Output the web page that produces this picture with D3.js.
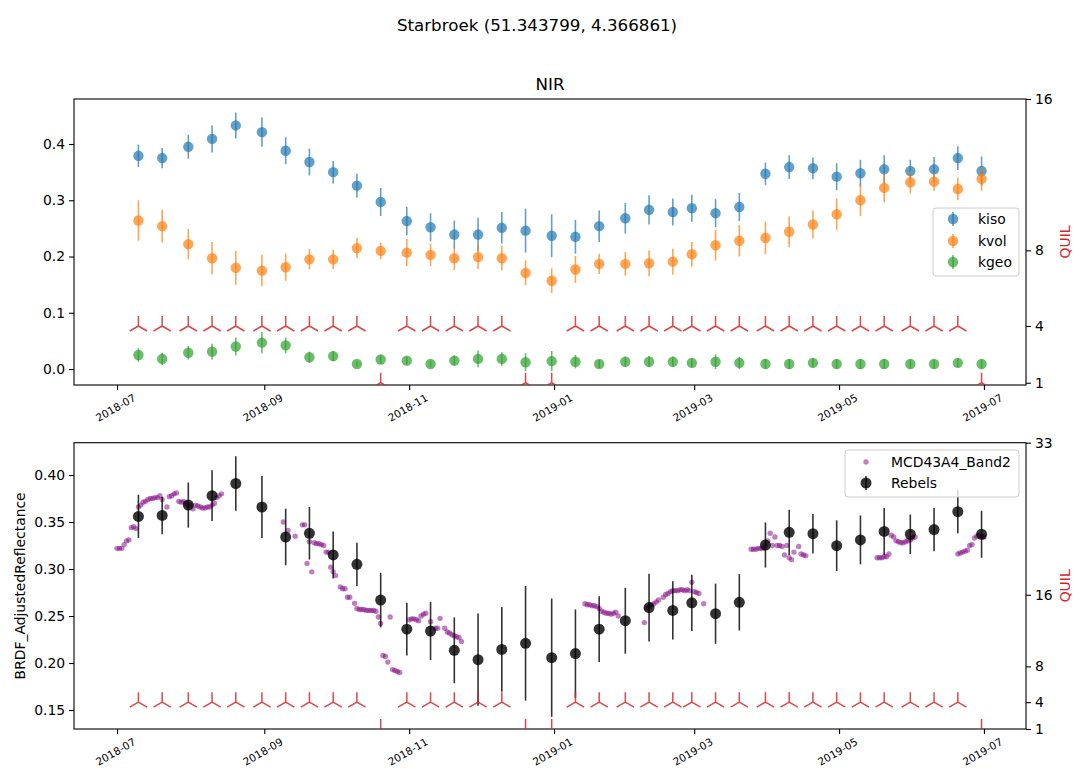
<!DOCTYPE html>
<html>
<head>
<meta charset="utf-8">
<script src="https://cdn.jsdelivr.net/npm/d3@7"></script>
<style>
  body { margin: 0; background: #fff; }
  text { font-family: "DejaVu Sans", sans-serif; fill: #000; }
</style>
</head>
<body>
<script>
// dekadal dates used by the kernel retrievals and Rebels
var dekadDates = ["2018-07-10","2018-07-20","2018-07-31","2018-08-10","2018-08-20","2018-08-31",
  "2018-09-10","2018-09-20","2018-09-30","2018-10-10","2018-10-20","2018-10-31",
  "2018-11-10","2018-11-20","2018-11-30","2018-12-10","2018-12-20","2018-12-31",
  "2019-01-10","2019-01-20","2019-01-31","2019-02-10","2019-02-20","2019-02-28",
  "2019-03-10","2019-03-20","2019-03-31","2019-04-10","2019-04-20","2019-04-30",
  "2019-05-10","2019-05-20","2019-05-31","2019-06-10","2019-06-20","2019-06-30"];

var kiso = [0.379,0.375,0.395,0.409,0.433,0.421,0.388,0.368,0.350,0.326,0.297,0.263,
  0.252,0.239,0.239,0.251,0.246,0.237,0.235,0.254,0.268,0.283,0.279,0.286,
  0.277,0.288,0.347,0.359,0.357,0.342,0.348,0.355,0.352,0.355,0.375,0.352];
var kisoErr = [0.020,0.018,0.021,0.024,0.023,0.026,0.024,0.024,0.020,0.021,0.025,0.025,
  0.025,0.025,0.030,0.028,0.039,0.038,0.030,0.028,0.027,0.026,0.024,0.024,
  0.025,0.025,0.020,0.021,0.019,0.024,0.024,0.025,0.020,0.022,0.021,0.026];
var kvol = [0.264,0.254,0.222,0.197,0.180,0.175,0.181,0.195,0.195,0.215,0.210,0.207,
  0.203,0.197,0.199,0.197,0.171,0.157,0.177,0.187,0.187,0.188,0.191,0.204,
  0.220,0.228,0.233,0.244,0.257,0.275,0.300,0.322,0.332,0.333,0.320,0.338];
var kvolErr = [0.036,0.029,0.027,0.029,0.030,0.028,0.024,0.018,0.017,0.018,0.015,0.024,
  0.020,0.021,0.021,0.022,0.022,0.022,0.024,0.018,0.021,0.023,0.023,0.022,
  0.027,0.028,0.029,0.027,0.025,0.028,0.028,0.026,0.020,0.016,0.020,0.021];
var kgeo = [0.025,0.018,0.029,0.031,0.040,0.047,0.042,0.021,0.023,0.009,0.017,0.015,
  0.009,0.015,0.018,0.018,0.012,0.014,0.013,0.009,0.013,0.013,0.013,0.011,
  0.013,0.011,0.009,0.009,0.011,0.009,0.009,0.009,0.009,0.009,0.011,0.009];
var kgeoErr = [0.012,0.011,0.012,0.014,0.016,0.019,0.014,0.010,0.009,0.005,0.008,0.007,
  0.006,0.009,0.015,0.012,0.016,0.018,0.012,0.007,0.009,0.010,0.009,0.008,
  0.013,0.011,0.009,0.009,0.008,0.008,0.009,0.009,0.008,0.008,0.008,0.008];
var quil = [4,4,4,4,4,4,4,4,4,4,1,4,4,4,4,4,1,1,
  4,4,4,4,4,4,4,4,4,4,4,4,4,4,4,4,4,1];
var rebels = [0.356,0.357,0.368,0.378,0.391,0.366,0.334,0.338,0.315,0.305,0.267,0.236,
  0.234,0.2135,0.2036,0.2145,0.221,0.2057,0.210,0.236,0.245,0.259,0.256,0.264,
  0.2525,0.2646,0.3255,0.339,0.3376,0.3248,0.331,0.340,0.337,0.342,0.361,0.337];
var rebelsErr = [0.023,0.020,0.024,0.027,0.029,0.033,0.030,0.028,0.025,0.023,0.029,0.028,
  0.031,0.035,0.049,0.045,0.061,0.063,0.047,0.035,0.035,0.036,0.031,0.030,
  0.032,0.030,0.024,0.024,0.021,0.027,0.026,0.025,0.021,0.023,0.023,0.025];

// daily MCD43A4 band 2 reflectance
var modisDates = ["2018-07-01","2018-07-02","2018-07-03","2018-07-04","2018-07-05","2018-07-06","2018-07-07",
  "2018-07-08","2018-07-09","2018-07-10","2018-07-11","2018-07-12","2018-07-13","2018-07-14","2018-07-15",
  "2018-07-16","2018-07-17","2018-07-18","2018-07-19","2018-07-20","2018-07-22","2018-07-23","2018-07-24",
  "2018-07-25","2018-07-26","2018-07-27","2018-07-28","2018-07-29","2018-07-30","2018-07-31","2018-08-01",
  "2018-08-02","2018-08-03","2018-08-04","2018-08-05","2018-08-06","2018-08-07","2018-08-08","2018-08-09",
  "2018-08-10","2018-08-11","2018-08-12","2018-08-13","2018-08-14",
  "2018-09-09","2018-09-11","2018-09-14","2018-09-17","2018-09-18","2018-09-19","2018-09-20","2018-09-21",
  "2018-09-22","2018-09-23","2018-09-24","2018-09-25","2018-09-26","2018-09-27","2018-09-28","2018-09-29",
  "2018-09-30","2018-10-01","2018-10-03","2018-10-04","2018-10-05","2018-10-06","2018-10-07","2018-10-09",
  "2018-10-10","2018-10-11","2018-10-12","2018-10-13","2018-10-14","2018-10-15","2018-10-16","2018-10-17",
  "2018-10-18","2018-10-19","2018-10-20","2018-10-21","2018-10-22","2018-10-23","2018-10-24","2018-10-25",
  "2018-10-26","2018-10-27","2018-10-28",
  "2018-11-01","2018-11-02","2018-11-03","2018-11-04","2018-11-05","2018-11-06","2018-11-07","2018-11-08",
  "2018-11-10","2018-11-12","2018-11-13","2018-11-14","2018-11-16","2018-11-17","2018-11-18","2018-11-19",
  "2018-11-20","2018-11-21","2018-11-22","2018-11-23",
  "2019-01-14","2019-01-15","2019-01-16","2019-01-17","2019-01-18","2019-01-19","2019-01-20","2019-01-21",
  "2019-01-22","2019-01-23","2019-01-24","2019-01-25","2019-01-26","2019-01-27","2019-01-28",
  "2019-02-08","2019-02-09","2019-02-10","2019-02-11","2019-02-12","2019-02-13","2019-02-14","2019-02-16",
  "2019-02-17","2019-02-18","2019-02-19","2019-02-20","2019-02-21","2019-02-22","2019-02-23","2019-02-24",
  "2019-02-25","2019-02-26","2019-02-27","2019-02-28","2019-03-01","2019-03-02","2019-03-03","2019-03-05",
  "2019-03-25","2019-03-26","2019-03-27","2019-03-28","2019-03-29","2019-03-30","2019-03-31","2019-04-01",
  "2019-04-02","2019-04-03","2019-04-04","2019-04-05","2019-04-06","2019-04-07","2019-04-08","2019-04-09",
  "2019-04-10","2019-04-11","2019-04-12","2019-04-14","2019-04-15","2019-04-16","2019-04-17",
  "2019-05-17","2019-05-18","2019-05-19","2019-05-20","2019-05-21","2019-05-22","2019-05-23","2019-05-24",
  "2019-05-25","2019-05-26","2019-05-27","2019-05-28","2019-05-29","2019-05-30","2019-05-31","2019-06-01",
  "2019-06-02",
  "2019-06-20","2019-06-21","2019-06-22","2019-06-23","2019-06-24","2019-06-25","2019-06-26","2019-06-27",
  "2019-06-28","2019-06-29","2019-06-30","2019-07-01"];
var modisValues = [0.322,0.322,0.322,0.326,0.330,0.331,0.344,
  0.345,0.343,0.366,0.368,0.371,0.372,0.374,0.375,
  0.375,0.376,0.376,0.378,0.374,0.366,0.377,0.378,
  0.380,0.381,0.372,0.371,0.372,0.370,0.367,0.368,
  0.364,0.368,0.367,0.366,0.365,0.365,0.366,0.366,
  0.368,0.370,0.376,0.378,0.380,
  0.350,0.341,0.335,0.347,0.347,0.306,0.329,0.297,
  0.328,0.327,0.327,0.326,0.325,0.318,0.318,0.302,
  0.297,0.293,0.281,0.279,0.279,0.270,0.270,0.2635,
  0.258,0.257,0.257,0.257,0.256,0.256,0.256,0.256,
  0.255,0.249,0.242,0.208,0.207,0.201,0.249,0.193,
  0.192,0.191,0.190,
  0.246,0.247,0.247,0.246,0.245,0.250,0.252,0.253,
  0.244,0.237,0.237,0.2475,0.237,0.233,0.232,0.230,
  0.229,0.228,0.227,0.223,
  0.263,0.262,0.262,0.261,0.261,0.260,0.258,0.255,
  0.254,0.253,0.253,0.252,0.253,0.254,0.250,
  0.243,0.258,0.260,0.262,0.263,0.265,0.267,0.270,
  0.273,0.274,0.276,0.277,0.277,0.277,0.278,0.278,
  0.277,0.278,0.277,0.286,0.276,0.275,0.274,0.263,
  0.321,0.321,0.321,0.322,0.322,0.322,0.325,0.330,
  0.338,0.325,0.334,0.325,0.325,0.324,0.315,0.325,
  0.312,0.310,0.318,0.324,0.316,0.315,0.314,
  0.312,0.312,0.312,0.313,0.313,0.316,0.336,0.334,
  0.330,0.329,0.328,0.328,0.329,0.330,0.331,0.333,
  0.334,
  0.316,0.317,0.318,0.319,0.320,0.325,0.326,0.333,
  0.335,0.336,0.335,0.334];

var topTicks = [0.0, 0.1, 0.2, 0.3, 0.4];
var bottomTicks = [0.15, 0.20, 0.25, 0.30, 0.35, 0.40];
var quilTicksTop = [1, 4, 8, 16];
var quilTicksBottom = [1, 4, 8, 16, 33];

var parse = d3.timeParse("%Y-%m-%d");
var dekads = dekadDates.map(parse);
var modisDays = modisDates.map(parse);

var W = 1074, H = 772;
var red = "#d62728";

var svg = d3.select("body").append("svg")
    .attr("width", W).attr("height", H)
    .style("font-family", "DejaVu Sans");

var x = d3.scaleTime()
    .domain([d3.timeHour.offset(parse("2018-07-01"), -435), d3.timeHour.offset(parse("2019-07-01"), 425)])
    .range([74, 1026]);

svg.append("text")
    .attr("x", 537).attr("y", 31)
    .attr("text-anchor", "middle")
    .style("font-size", "16.7px")
    .text("Starbroek (51.343799, 4.366861)");

function makePanel(id, top, bottom, yDomain, yTicks, yFmt, qDomain, qTicks) {
    var g = svg.append("g");
    var y = d3.scaleLinear().domain(yDomain).range([bottom, top]);
    var q = d3.scaleLinear().domain(qDomain).range([bottom, top]);

    svg.append("clipPath").attr("id", id)
        .append("rect")
        .attr("x", 74).attr("y", top)
        .attr("width", 1026 - 74).attr("height", bottom - top);

    var xAxis = g.append("g")
        .attr("transform", "translate(0," + bottom + ")")
        .call(d3.axisBottom(x).ticks(d3.timeMonth.every(2)).tickFormat(d3.timeFormat("%Y-%m")).tickSizeOuter(0).tickSize(4.9).tickPadding(3));
    xAxis.selectAll("text")
        .style("font-size", "10.5px")
        .attr("fill", "#000")
        .attr("text-anchor", "middle")
        .attr("y", 0).attr("dy", 0)
        .attr("transform", "translate(0,26) rotate(-30)");

    var yAxis = g.append("g")
        .attr("transform", "translate(74,0)")
        .call(d3.axisLeft(y).tickValues(yTicks).tickFormat(d3.format(yFmt)).tickSizeOuter(0).tickSize(4.9).tickPadding(4));
    yAxis.selectAll("text").style("font-size", "13.9px").attr("fill", "#000");

    var qAxis = g.append("g")
        .attr("transform", "translate(1026,0)")
        .call(d3.axisRight(q).tickValues(qTicks).tickFormat(d3.format("d")).tickSizeOuter(0).tickSize(4.9).tickPadding(4));
    qAxis.selectAll("text").style("font-size", "13.9px").attr("fill", red);

    g.selectAll(".domain").remove();
    g.selectAll(".tick line").attr("stroke", "#000").attr("stroke-width", 1.1);

    g.append("rect")
        .attr("x", 74).attr("y", top)
        .attr("width", 1026 - 74).attr("height", bottom - top)
        .attr("fill", "none").attr("stroke", "#000").attr("stroke-width", 1.1);

    svg.append("text")
        .attr("transform", "translate(1070," + ((top + bottom) / 2) + ") rotate(-90)")
        .attr("text-anchor", "middle")
        .style("font-size", "13.9px")
        .style("fill", red)
        .text("QUIL");

    var plot = svg.append("g").attr("clip-path", "url(#" + id + ")");
    return {y: y, q: q, plot: plot};
}

function errorSeries(plot, y, values, errs, color, alpha, r) {
    plot.append("g").selectAll("line")
        .data(values).enter().append("line")
        .attr("x1", function(d, i) { return x(dekads[i]); })
        .attr("x2", function(d, i) { return x(dekads[i]); })
        .attr("y1", function(d, i) { return y(d - errs[i]); })
        .attr("y2", function(d, i) { return y(d + errs[i]); })
        .attr("stroke", color).attr("stroke-width", 1.6).attr("stroke-opacity", alpha);
    plot.append("g").selectAll("circle")
        .data(values).enter().append("circle")
        .attr("cx", function(d, i) { return x(dekads[i]); })
        .attr("cy", function(d) { return y(d); })
        .attr("r", r)
        .attr("fill", color).attr("fill-opacity", alpha);
}

var triPath = "M0,0L0,-10M0,0L-8.66,5M0,0L8.66,5";

function quilMarkers(plot, q) {
    plot.append("g").selectAll("path")
        .data(quil).enter().append("path")
        .attr("transform", function(d, i) { return "translate(" + x(dekads[i]) + "," + q(d) + ")"; })
        .attr("d", triPath)
        .attr("fill", "none").attr("stroke", red).attr("stroke-width", 1.5).attr("stroke-opacity", 0.85);
}

function legendEntry(g, lx, ly, color, alpha, label, r) {
    g.append("line").attr("x1", lx).attr("x2", lx).attr("y1", ly - 7).attr("y2", ly + 7)
        .attr("stroke", color).attr("stroke-width", 1.6).attr("stroke-opacity", alpha);
    g.append("circle").attr("cx", lx).attr("cy", ly).attr("r", r)
        .attr("fill", color).attr("fill-opacity", alpha);
    g.append("text").attr("x", lx + 25).attr("y", ly + 5).style("font-size", "13.9px").text(label);
}

// top panel: kernels
var p1 = makePanel("clipTop", 99, 385, [-0.0284, 0.48], topTicks, ".1f", [0.88, 16], quilTicksTop);
svg.append("text").attr("x", 550).attr("y", 90).attr("text-anchor", "middle")
    .style("font-size", "16.7px").text("NIR");
errorSeries(p1.plot, p1.y, kiso, kisoErr, "#1f77b4", 0.7, 5.2);
errorSeries(p1.plot, p1.y, kvol, kvolErr, "#ff7f0e", 0.7, 5.2);
errorSeries(p1.plot, p1.y, kgeo, kgeoErr, "#2ca02c", 0.7, 5.2);
quilMarkers(p1.plot, p1.q);

var leg1 = svg.append("g");
leg1.append("rect").attr("x", 933).attr("y", 208).attr("width", 86).attr("height", 68).attr("rx", 3)
    .attr("fill", "#fff").attr("fill-opacity", 0.8).attr("stroke", "#ccc");
legendEntry(leg1, 953, 219, "#1f77b4", 0.7, "kiso", 5.2);
legendEntry(leg1, 953, 241, "#ff7f0e", 0.7, "kvol", 5.2);
legendEntry(leg1, 953, 262, "#2ca02c", 0.7, "kgeo", 5.2);

// bottom panel: reflectance
var p2 = makePanel("clipBottom", 442.7, 729, [0.1298, 0.4344], bottomTicks, ".2f", [1, 33], quilTicksBottom);
svg.append("text")
    .attr("transform", "translate(25," + ((442.7 + 729) / 2) + ") rotate(-90)")
    .attr("text-anchor", "middle")
    .style("font-size", "13.9px")
    .text("BRDF_AdjustedReflectance");

p2.plot.append("g").selectAll("circle")
    .data(modisValues).enter().append("circle")
    .attr("cx", function(d, i) { return x(modisDays[i]); })
    .attr("cy", function(d) { return p2.y(d); })
    .attr("r", 2.7)
    .attr("fill", "purple").attr("fill-opacity", 0.5);
errorSeries(p2.plot, p2.y, rebels, rebelsErr, "#000", 0.8, 5.5);
quilMarkers(p2.plot, p2.q);

var leg2 = svg.append("g");
leg2.append("rect").attr("x", 845).attr("y", 450).attr("width", 174).attr("height", 47).attr("rx", 3)
    .attr("fill", "#fff").attr("fill-opacity", 0.8).attr("stroke", "#ccc");
leg2.append("circle").attr("cx", 866).attr("cy", 462).attr("r", 2.7)
    .attr("fill", "purple").attr("fill-opacity", 0.5);
leg2.append("text").attr("x", 891).attr("y", 467).style("font-size", "13.9px").text("MCD43A4_Band2");
legendEntry(leg2, 866, 483, "#000", 0.8, "Rebels", 5.5);
</script>
</body>
</html>
